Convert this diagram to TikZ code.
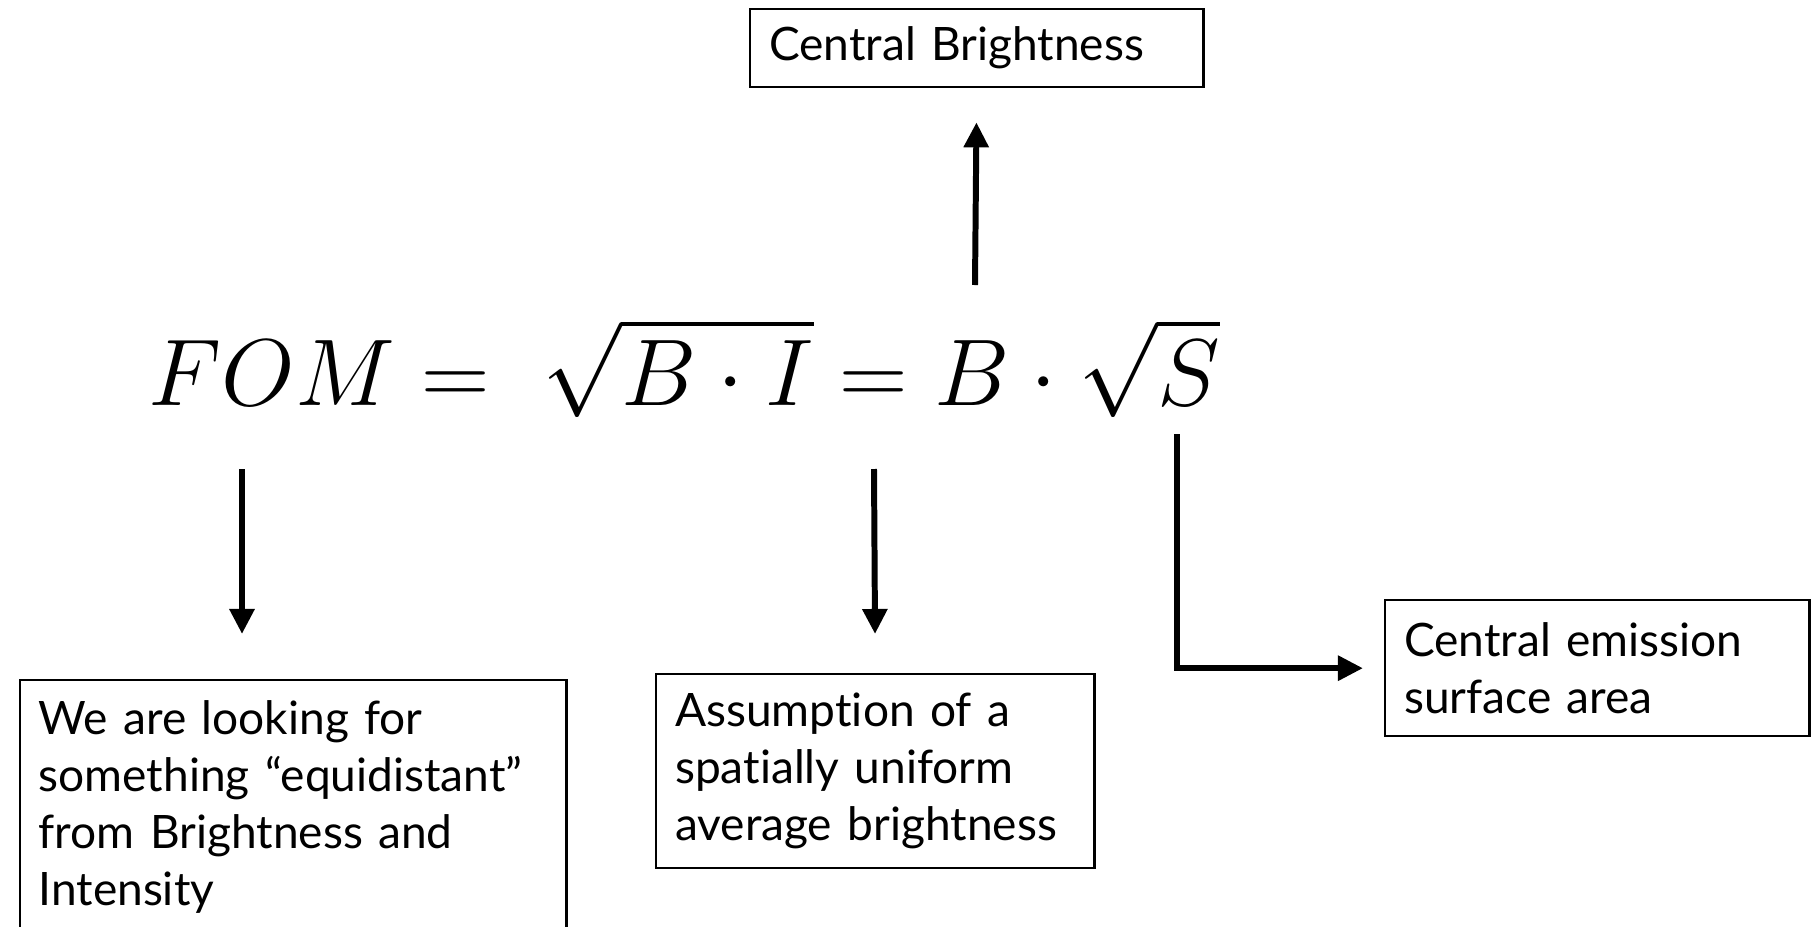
\documentclass[tikz,border=0pt]{standalone}
\usepackage{graphicx}
\usepackage[no-math]{fontspec}
\setmainfont{Lato}[Ligatures=NoCommon]
\usetikzlibrary{arrows.meta}
\begin{document}
\begin{tikzpicture}[x=0.01cm, y=-0.01cm,
  box/.style={draw=black, line width=0.65pt, inner xsep=0.19cm, inner ysep=0pt,
              align=left, anchor=north west, font=\fontsize{13.1}{16.2}\selectfont},
  arr/.style={-{Triangle[length=0.25cm, width=0.24cm]}, line width=1.7pt},
]
\useasboundingbox (0,0) rectangle (1814,927);
\clip (0,0) rectangle (1814,927);

% the figure of merit (math fonts stop at 24.88pt, so scale up)
\node[anchor=base west, inner sep=0pt, font=\Huge] (fom) at (148,405)
  {\scalebox{1.084}{$FOM = \;\sqrt{B\cdot I} = B\cdot\sqrt{S}$}};

% notes round the formula
\node[box, text width=4.15cm, minimum height=0.78cm] (cb) at (749,8) {Central Brightness};
\node[box, text width=5.085cm, minimum height=2.54cm] (want) at (18.5,679)
  {We are looking for\\ something “equidistant”\\ from Brightness and\\ Intensity};
\node[box, text width=4.0cm, minimum height=1.94cm] (unif) at (655,673)
  {Assumption of a\\ spatially uniform\\ average brightness};
\node[box, text width=3.86cm, minimum height=1.36cm] (area) at (1384,599)
  {Central emission\\ surface area};

% arrow tails under and over the formula
\coordinate (s1) at (242,469);
\coordinate (s2) at (874,469);
\coordinate (s3) at (975,285);
\coordinate (s4) at (1177,434);

\draw[arr, shorten >=0.45cm] (s1) -- (s1 |- want.north);
\draw[arr, shorten >=0.39cm] (s2) -- (unif.north);
\draw[arr, shorten >=0.34cm] (s3) -- (cb.south);
\draw[arr, shorten >=0.21cm] (s4) |- (area.west);
\end{tikzpicture}
\end{document}
